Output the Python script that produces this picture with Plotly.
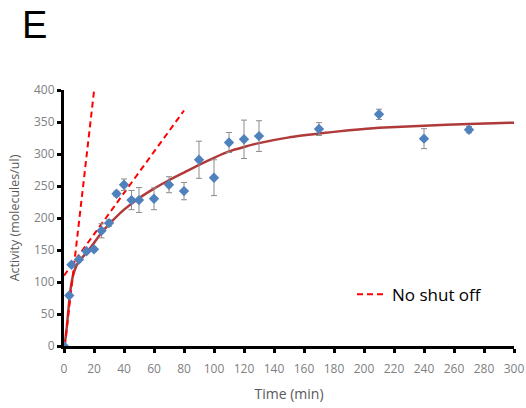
import plotly.graph_objects as go

# Measured data (time in min, activity in molecules/ul)
time_pts = [0, 3.5, 5, 10, 15, 20, 25, 30, 35, 40, 45, 50, 60, 70, 80, 90, 100, 110, 120, 130, 170, 210, 240, 270]
activity = [0, 79, 127, 135, 148, 151, 180, 192, 238, 252, 228, 228, 230, 252, 242, 291, 263, 318, 323, 328, 339, 362, 324, 338]
errors = [0, 3, 3, 3, 3, 3, 11, 5, 4, 9, 15, 19.5, 17, 12.5, 13.5, 29, 28, 15.6, 30, 24, 10, 8, 15.6, 5]

# Fitted curve
fit_t = [0, 1, 2, 3, 4, 5, 6, 8, 10, 15, 20, 25, 30, 40, 50, 60, 70, 80, 90, 100, 110, 120, 130, 150, 170, 190, 210, 240, 270, 300]
fit_y = [0, 12, 33, 58, 82, 98, 110, 124, 132, 146, 161, 177, 190, 213, 231, 246, 259, 271, 283, 294, 304, 311, 317, 326, 332, 337, 341, 344, 347, 349]

# "No shut off" tangent lines (two segments)
steep_t = [0.5, 20]
steep_y = [0, 398]
shallow_t = [0, 80]
shallow_y = [110, 368]

x_ticks = list(range(0, 301, 20))
y_ticks = list(range(0, 401, 50))

fig = go.Figure()

fig.add_trace(go.Scatter(
    x=fit_t, y=fit_y, mode="lines",
    line=dict(color="#B03A3A", width=2.5, shape="spline", smoothing=0.5),
    showlegend=False, hoverinfo="skip"))

fig.add_trace(go.Scatter(
    x=steep_t + [None] + shallow_t, y=steep_y + [None] + shallow_y, mode="lines",
    line=dict(color="#FF0000", width=2, dash="6px,4px"), name="No shut off",
    showlegend=True, connectgaps=False))

fig.add_trace(go.Scatter(
    x=time_pts, y=activity, mode="markers",
    marker=dict(symbol="diamond", color="#4F81BD", size=8),
    error_y=dict(type="data", array=errors, color="#8C8C8C", thickness=1, width=3),
    showlegend=False))

fig.update_layout(
    width=526, height=408,
    margin=dict(l=64, r=12, t=90, b=62),
    paper_bgcolor="white", plot_bgcolor="white",
    font=dict(family="Open Sans, Liberation Sans, Arial", color="#808080", size=12),
    title=dict(text="E", x=22 / 526, xanchor="left", xref="container", yref="container",
               y=1 - 25 / 408, yanchor="middle", automargin=False,
               font=dict(size=38, color="black", family="Liberation Sans, Arial")),
    legend=dict(x=0.64, y=0.2, xanchor="left", yanchor="middle", bgcolor="rgba(0,0,0,0)",
                font=dict(size=17, color="black"), itemwidth=30),
    xaxis=dict(range=[0, 300], tickvals=x_ticks, showgrid=False, zeroline=False,
               showline=True, linecolor="black", linewidth=3, automargin=False,
               ticks="outside", ticklen=4, tickwidth=3, tickcolor="black",
               ticklabelstandoff=6,
               title=dict(text="Time (min)", font=dict(size=14, color="#595959"), standoff=13)),
    yaxis=dict(range=[0, 400], tickvals=y_ticks, showgrid=False, zeroline=False,
               showline=True, linecolor="black", linewidth=3, automargin=False,
               ticks="outside", ticklen=4, tickwidth=3, tickcolor="black",
               title=dict(text="Activity (molecules/ul)", font=dict(size=12.5, color="#595959"), standoff=12)),
)

fig.write_html("out.html", config={"displayModeBar": False},
               post_script="document.body.style.margin='0';")
